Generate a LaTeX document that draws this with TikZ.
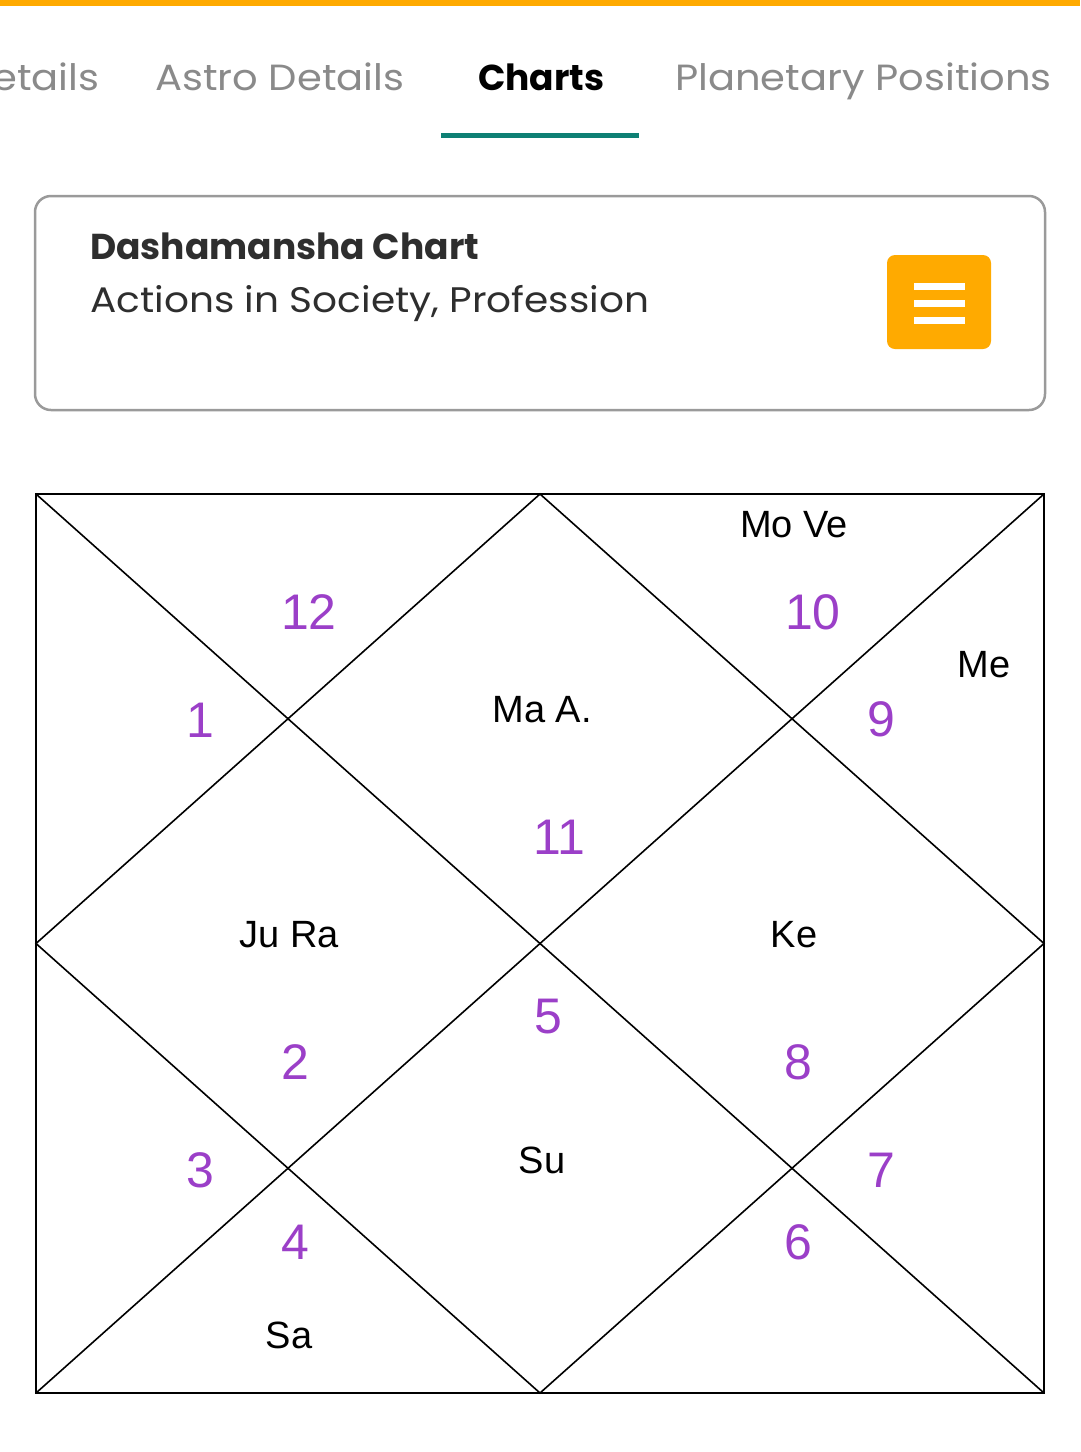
\documentclass[tikz,border=0pt]{standalone}
\usepackage{fontspec}
\setmainfont{Poppins}
\newfontfamily\uiwide{Poppins}[FakeStretch=1.1]
\newfontfamily\chartfont{Liberation Sans}
\definecolor{barorange}{HTML}{FFAA00}
\definecolor{tabteal}{HTML}{0E8074}
\definecolor{tabgray}{HTML}{8A8A8A}
\definecolor{cardgray}{HTML}{9A9A9A}
\definecolor{housepurple}{HTML}{9B3FC8}
\definecolor{titledark}{HTML}{2E2E2E}
\tikzset{
  tab/.style={anchor=base west, inner sep=0pt, font=\uiwide\fontsize{36.4}{40}\selectfont, text=tabgray},
  num/.style={inner sep=0pt, font=\chartfont\fontsize{50}{54}\selectfont, text=housepurple},
  planet/.style={inner sep=0pt, font=\chartfont\fontsize{38}{42}\selectfont, text=black},
  chartline/.style={draw=black, line width=1.6pt},
}
\begin{document}
\begin{tikzpicture}[x=1pt,y=-1pt]
\useasboundingbox (0,0) rectangle (1080,1452);
\fill[white] (0,0) rectangle (1080,1452);
% top bar
\fill[barorange] (0,0) rectangle (1080,6);
% tabs
\begin{scope}
\clip (0,0) rectangle (1080,1452);
\node[tab] (t1) at (-8,90) {etails};
\end{scope}
\node[tab] (t2) at (155,90) {Astro Details};
\node[tab, text=black, font=\fontsize{36}{40}\selectfont\bfseries] (t3) at (478,90) {Charts};
\node[tab] (t4) at (675,90) {Planetary Positions};
\fill[tabteal] (441,133) rectangle (639,138);
% card
\draw[cardgray, line width=2.5pt, rounded corners=16pt] (35,196) rectangle (1045,410);
\node[anchor=base west, inner sep=0pt, text=titledark, font=\fontsize{36}{38}\selectfont\bfseries] (title) at (90,259) {Dashamansha Chart};
\node[anchor=base west, inner sep=0pt, text=titledark, font=\uiwide\fontsize{35.5}{38}\selectfont] (sub) at (90,312) {Actions in Society, Profession};
\fill[barorange, rounded corners=8pt] (887,255) rectangle (991,349);
\foreach \yy in {283,300,317}{\fill[white] (914,\yy) rectangle (965,\yy+7);}
% chart
\coordinate (TL) at (36,494);
\coordinate (TR) at (1044,494);
\coordinate (BR) at (1044,1393);
\coordinate (BL) at (36,1393);
\coordinate (T) at (540,494);
\coordinate (R) at (1044,943.5);
\coordinate (B) at (540,1393);
\coordinate (L) at (36,943.5);
\draw[chartline] (TL) rectangle (BR);
\draw[chartline] (TL) -- (BR);
\draw[chartline] (TR) -- (BL);
\draw[chartline] (T) -- (R) -- (B) -- (L) -- cycle;
% house numbers
\node[num] (h12) at (309,612) {12};
\node[num] (h1) at (200,720) {1};
\node[num] (h10) at (813,612) {10};
\node[num] (h9) at (881,719) {9};
\node[num] (h11) at (559,837) {11};
\node[num] (h5) at (548,1017) {5};
\node[num] (h2) at (295,1062) {2};
\node[num] (h8) at (798,1062) {8};
\node[num] (h3) at (200,1170) {3};
\node[num] (h7) at (881,1170) {7};
\node[num] (h4) at (295,1242) {4};
\node[num] (h6) at (798,1242) {6};
% planets
\node[planet] (p10) at (794,525) {Mo Ve};
\node[planet] (p9) at (984,665) {Me};
\node[planet] (p11) at (542,710) {Ma A.};
\node[planet] (p2) at (289,935) {Ju Ra};
\node[planet] (p8) at (794,935) {Ke};
\node[planet] (p5) at (542,1160) {Su};
\node[planet] (p4) at (289,1335) {Sa};
\end{tikzpicture}
\end{document}
